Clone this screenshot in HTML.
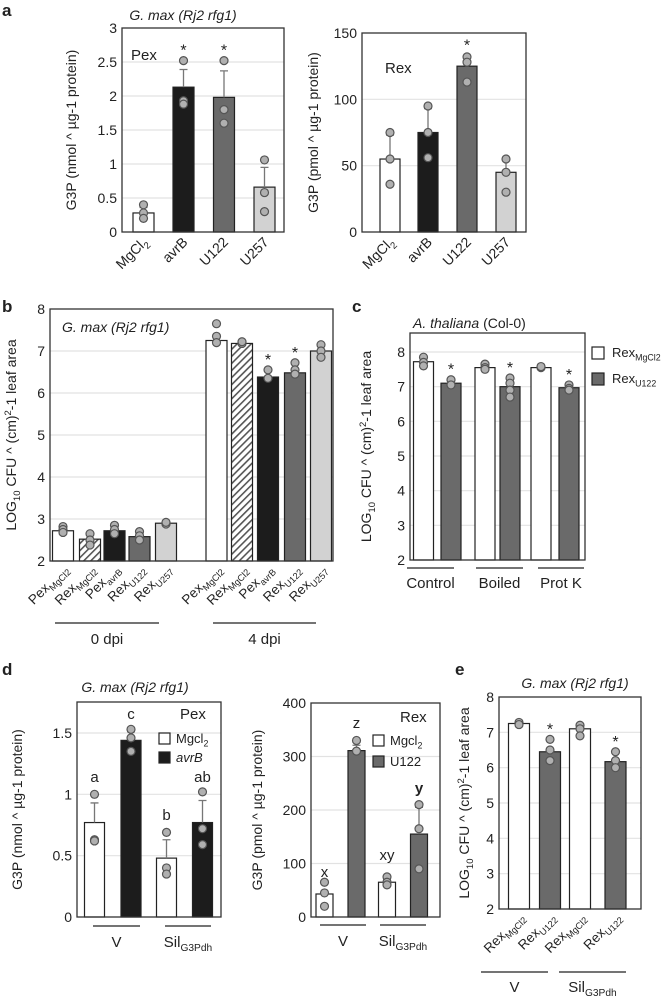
<!DOCTYPE html>
<html><head><meta charset="utf-8">
<style>
body{margin:0;background:#fff;}
svg{display:block;font-family:"Liberation Sans",sans-serif;}
text{fill:#222;}
</style></head>
<body>
<svg id="fig" width="668" height="996" viewBox="0 0 668 996" xmlns="http://www.w3.org/2000/svg">
<defs>
<pattern id="hatch" patternUnits="userSpaceOnUse" width="5" height="5" patternTransform="rotate(45)">
<rect width="5" height="5" fill="#fff"/><rect width="1.6" height="5" fill="#555"/>
</pattern>
</defs>
</svg>
<script>
// ---- Panel a left ----
const aLCats=["MgCl2","avrB","U122","U257"];
const aLVals=[0.28,2.13,1.98,0.66];
const aLErr=[0.08,0.26,0.39,0.29];
const aLPts=[[0.4,0.28,0.2],[2.52,1.93,1.88],[2.52,1.8,1.6],[1.06,0.58,0.3]];
const aLTicks=[0,0.5,1,1.5,2,2.5,3];
const aLStars=[false,true,true,false];
// ---- Panel a right ----
const aRCats=["MgCl2","avrB","U122","U257"];
const aRVals=[55,75,125,45];
const aRErr=[18,18,8,10];
const aRPts=[[75,55,36],[95,75,56],[132,128,113],[55,45,30]];
const aRTicks=[0,50,100,150];
const aRStars=[false,false,true,false];
// ---- Panel b ----
const bCats=["PexMgCl2","RexMgCl2","PexavrB","RexU122","RexU257","PexMgCl2","RexMgCl2","PexavrB","RexU122","RexU257"];
const bVals=[2.72,2.52,2.72,2.58,2.9,7.25,7.18,6.38,6.48,7.0];
const bPts=[[2.82,2.75,2.68],[2.65,2.5,2.38],[2.85,2.75,2.65],[2.7,2.6,2.5],[2.9,2.88,2.92],[7.65,7.35,7.2],[7.2,7.18,7.22],[6.55,6.35],[6.72,6.55,6.45],[7.15,7.0,6.85]];
const bTicks=[2,3,4,5,6,7,8];
const bStars=[false,false,false,false,false,false,false,true,true,false];
// ---- Panel c ----
const cCats=["Control","Control","Boiled","Boiled","Prot K","Prot K"];
const cVals=[7.72,7.1,7.55,7.0,7.55,6.97];
const cPts=[[7.85,7.7,7.6],[7.2,7.05],[7.65,7.55,7.5],[7.25,7.1,6.9,6.7],[7.55,7.58],[7.05,6.95,6.9]];
const cTicks=[2,3,4,5,6,7,8];
const cStars=[false,true,false,true,false,true];
// ---- Panel d left ----
const dLVals=[0.77,1.44,0.48,0.77];
const dLErr=[0.16,0.07,0.15,0.18];
const dLPts=[[1.0,0.63,0.62],[1.53,1.46,1.35],[0.69,0.4,0.35],[1.02,0.72,0.59]];
const dLTicks=[0,0.5,1,1.5];
const dLLetters=["a","c","b","ab"];
// ---- Panel d right ----
const dRVals=[43,311,65,155];
const dRErr=[0,10,5,50];
const dRPts=[[65,45,20],[330,310],[75,65,60],[210,165,90]];
const dRTicks=[0,100,200,300,400];
const dRLetters=["x","z","xy","y"];
// ---- Panel e ----
const eCats=["RexMgCl2","RexU122","RexMgCl2","RexU122"];
const eVals=[7.25,6.45,7.1,6.17];
const ePts=[[7.28,7.22],[6.8,6.5,6.2],[7.2,7.1,6.9],[6.45,6.2,6.0]];
const eTicks=[2,3,4,5,6,7,8];
const eStars=[false,true,false,true];

const svg=document.getElementById('fig');
const NS='http://www.w3.org/2000/svg';
function mk(tag,attrs,parent){const e=document.createElementNS(NS,tag);for(const k in attrs)e.setAttribute(k,attrs[k]);(parent||svg).appendChild(e);return e;}
function txt(x,y,s,size,anchor,parent,extra){const t=mk('text',Object.assign({x:x,y:y,'font-size':size,'text-anchor':anchor||'middle'},extra||{}),parent);t.textContent=s;return t;}
function sub(x,y,base,subs,size,anchor,parent,extra){const t=mk('text',Object.assign({x:x,y:y,'font-size':size,'text-anchor':anchor||'middle'},extra||{}),parent);const a=document.createElementNS(NS,'tspan');a.textContent=base;t.appendChild(a);const b=document.createElementNS(NS,'tspan');b.setAttribute('font-size',size*0.68);b.setAttribute('dy',size*0.28);b.textContent=subs;t.appendChild(b);return t;}

function splitLabel(s){const m=s.match(/^(Pex|Rex)(.*)$/);return m?[m[1],m[2]]:[s,''];}

function chart(o){
  const g=mk('g',{});
  
  
  const y=v=>o.y0-(v-o.tmin)/(o.tmax-o.tmin)*(o.y0-o.y1);
  o.ticks.forEach((t,i)=>{
    if(t!==o.tmin && y(t)>o.top+1){const l=mk('line',{x1:o.x0,x2:o.xr,y1:y(t),y2:y(t),stroke:'#e2e2e2','stroke-width':1.2},g);}
    const tl=txt(o.x0-5,y(t)+5,String(t),14,'end',g);
    
    
  });
  o.vals.forEach((v,i)=>{
    const cx=o.cx[i], w=o.bw;
    const r=mk('rect',{x:cx-w/2,y:y(v),width:w,height:o.y0-y(v),fill:o.fills[i],stroke:'#222','stroke-width':1.2},g);
    
    
    if(o.err&&o.err[i]>0){const e=mk('path',{d:`M${cx},${y(v)}V${y(v+o.err[i])}M${cx-4},${y(v+o.err[i])}H${cx+4}`,stroke:'#777','stroke-width':1.3,fill:'none'},g);}
    o.pts[i].forEach(p=>{const c=mk('circle',{cx:cx,cy:y(p),r:4,fill:'#b0b0b0',stroke:'#555','stroke-width':1.2},g);});
    if(o.stars&&o.stars[i]){const top=Math.max(v+(o.err?o.err[i]:0),Math.max(...o.pts[i]));const s=txt(cx,y(top)-5,'*',16,'middle',g,{fill:'#555'});}
  });
  const f=mk('rect',{x:o.x0,y:o.top,width:o.xr-o.x0,height:o.y0-o.top,fill:'none',stroke:'#333','stroke-width':1.3},g);
  
  
  const yt=mk('text',{x:0,y:0,'font-size':14,'text-anchor':'middle',transform:`translate(${o.ytx},${(o.top+o.y0)/2}) rotate(-90)`},g);
  
  
  o.ytitle.forEach(seg=>{const ts=document.createElementNS(NS,'tspan');ts.textContent=seg[0];ts.setAttribute('font-size',seg[2]?9.5:14);if(seg[1])ts.setAttribute('dy',seg[1]);yt.appendChild(ts);});
  return {g,y};
}
const F={w:'#fff',k:'#1c1c1c',d:'#6a6a6a',l:'#d2d2d2',h:'url(#hatch)'};
const aTitle=u=>[[`G3P (${u} ^ µg-1 protein)`]];
const logTitle=[["LOG"],["10",4,true],[" CFU ^ (cm)",-4],["2",-5,true],["-1 leaf area",5]];

[['a',2,16],['b',2,312],['c',352,312],['d',2,675],['e',455,675]].forEach(p=>{const t=txt(p[1],p[2],p[0],17,'start',svg,{'font-weight':'bold'});});

function italicTitle(x,y,s,name){const t=txt(x,y,s,14,'middle',svg,{'font-style':'italic'});return t;}
function rotLabel(g,x,y,s,size,isSub){
  let t;
  if(isSub){const p=splitLabel(s);t=sub(0,0,p[0],p[1],size,'end',g,{transform:`translate(${x},${y}) rotate(-45)`});}
  else t=txt(0,0,s,size,'end',g,{transform:`translate(${x},${y}) rotate(-45)`});
  
  
  return t;
}
function groupLine(x1,x2,y,label,subl,ly,name){
  const l=mk('line',{x1:x1,x2:x2,y1:y,y2:y,stroke:'#222','stroke-width':1.3});
  
  
  const t=subl?sub((x1+x2)/2,ly,label,subl,15,'middle'):txt((x1+x2)/2,ly,label,15,'middle');
  
  
}

// ===== a left =====
italicTitle(183,20,'G. max (Rj2 rfg1)','panel-a-title');
let A=chart({name:'panel-a-pex-chart',x0:122,xr:284,top:28,y0:232,y1:28,tmin:0,tmax:3,ticks:aLTicks,vals:aLVals,err:aLErr,pts:aLPts,stars:aLStars,cx:[143.5,183.5,224,264.5],bw:21,fills:[F.w,F.k,F.d,F.l],ytx:76,ytitle:aTitle('nmol')});
txt(131,60,'Pex',15,'start',A.g);
aLCats.forEach((c,i)=>{const cx=[143.5,183.5,224,264.5][i];if(i===0)sub(0,0,'MgCl','2',14,'end',A.g,{transform:`translate(${cx+5},${243}) rotate(-45)`});else rotLabel(A.g,cx+5,243,c,14,false);});
// ===== a right =====
A=chart({name:'panel-a-rex-chart',x0:362,xr:526,top:33,y0:232,y1:33,tmin:0,tmax:150,ticks:aRTicks,vals:aRVals,err:aRErr,pts:aRPts,stars:aRStars,cx:[390,428,467,506],bw:20,fills:[F.w,F.k,F.d,F.l],ytx:318,ytitle:aTitle('pmol')});
txt(385,73,'Rex',15,'start',A.g);
aRCats.forEach((c,i)=>{const cx=[390,428,467,506][i];if(i===0)sub(0,0,'MgCl','2',14,'end',A.g,{transform:`translate(${cx+5},${243}) rotate(-45)`});else rotLabel(A.g,cx+5,243,c,14,false);});

// ===== b =====
const bcx=[63,90,114.5,139.5,166,216.5,242,268,295,321];
A=chart({name:'panel-b-chart',x0:50,xr:333,top:309,y0:561,y1:309,tmin:2,tmax:8,ticks:bTicks,vals:bVals,pts:bPts,stars:bStars,cx:bcx,bw:21,fills:[F.w,F.h,F.k,F.d,F.l,F.w,F.h,F.k,F.d,F.l],ytx:16,ytitle:logTitle});
txt(62,332,'G. max (Rj2 rfg1)',14,'start',A.g,{'font-style':'italic'});
bCats.forEach((c,i)=>rotLabel(A.g,bcx[i]+6,570,c,13.5,true));
groupLine(55,159,623,'0 dpi',null,644,'group-0dpi');
groupLine(213,316,623,'4 dpi',null,644,'group-4dpi');

// ===== c =====
const ccx=[423.5,451,485,510,541,569];
A=chart({name:'panel-c-chart',x0:410,xr:585,top:333,y0:560,y1:352,tmin:2,tmax:8,ticks:cTicks,vals:cVals,pts:cPts,stars:cStars,cx:ccx,bw:20,fills:[F.w,F.d,F.w,F.d,F.w,F.d],ytx:371,ytitle:logTitle});
{const t=mk('text',{x:413,y:328,'font-size':14,'text-anchor':'start'});const a=document.createElementNS(NS,'tspan');a.setAttribute('font-style','italic');a.textContent='A. thaliana ';t.appendChild(a);const b=document.createElementNS(NS,'tspan');b.textContent='(Col-0)';t.appendChild(b);}
[[F.w,'MgCl2',347],[F.d,'U122',373]].forEach((L,i)=>{const r=mk('rect',{x:592,y:L[2],width:12,height:12,fill:L[0],stroke:'#222','stroke-width':1.2});const t=sub(612,L[2]+10,'Rex',L[1],13,'start');});
groupLine(407,454,568,'Control',null,588,'group-control');
groupLine(476,523,568,'Boiled',null,588,'group-boiled');
groupLine(538,584,568,'Prot K',null,588,'group-protk');

// ===== d left =====
italicTitle(135,692,'G. max (Rj2 rfg1)','panel-d-title');
const dlcx=[94.5,131,166.5,202.5];
A=chart({name:'panel-d-pex-chart',x0:77,xr:221,top:702,y0:917,y1:733,tmin:0,tmax:1.5,ticks:dLTicks,vals:dLVals,err:dLErr,pts:dLPts,cx:dlcx,bw:20,fills:[F.w,F.k,F.w,F.k],ytx:22,ytitle:aTitle('nmol')});
dLLetters.forEach((l,i)=>{const t=txt(dlcx[i],[782,719,820,782][i],l,15,'middle',A.g);});
txt(180,719,'Pex',15,'start',A.g);
mk('rect',{x:159,y:733,width:11,height:11,fill:'#fff',stroke:'#222','stroke-width':1.2},A.g);
sub(176,743,'Mgcl','2',13,'start',A.g);
mk('rect',{x:159,y:752,width:11,height:11,fill:'#1c1c1c',stroke:'#222','stroke-width':1.2},A.g);
txt(176,762,'avrB',13,'start',A.g,{'font-style':'italic'});
groupLine(93,140,926,'V',null,947,'group-v');
groupLine(165,211,926,'Sil','G3Pdh',947,'group-sil');

// ===== d right =====
const drcx=[324.5,356.5,387,419];
A=chart({name:'panel-d-rex-chart',x0:311,xr:440,top:703,y0:917,y1:703,tmin:0,tmax:400,ticks:dRTicks,vals:dRVals,err:dRErr,pts:dRPts,cx:drcx,bw:17,fills:[F.w,F.d,F.w,F.d],ytx:262,ytitle:aTitle('pmol')});
dRLetters.forEach((l,i)=>{const t=txt(drcx[i],[877,728,860,793][i],l,15,'middle',A.g,i===3?{'font-weight':'bold'}:{});});
txt(400,722,'Rex',15,'start',A.g);
mk('rect',{x:373,y:735,width:11,height:11,fill:'#fff',stroke:'#222','stroke-width':1.2},A.g);
sub(390,745,'Mgcl','2',13,'start',A.g);
mk('rect',{x:373,y:756,width:11,height:11,fill:'#6a6a6a',stroke:'#222','stroke-width':1.2},A.g);
txt(390,766,'U122',13,'start',A.g);
groupLine(320,366,925,'V',null,946,'group-v-rex');
groupLine(380,426,925,'Sil','G3Pdh',946,'group-sil-rex');

// ===== e =====
italicTitle(575,688,'G. max (Rj2 rfg1)','panel-e-title');
const ecx=[519,550,580,615.5];
A=chart({name:'panel-e-chart',x0:499,xr:641,top:697,y0:909,y1:697,tmin:2,tmax:8,ticks:eTicks,vals:eVals,pts:ePts,stars:eStars,cx:ecx,bw:21,fills:[F.w,F.d,F.w,F.d],ytx:469,ytitle:logTitle});
eCats.forEach((c,i)=>rotLabel(A.g,ecx[i]+6,918,c,13.5,true));
groupLine(481,548,972,'V',null,992,'group-v-e');
groupLine(559,626,972,'Sil','G3Pdh',992,'group-sil-e');
</script>
</body></html>
